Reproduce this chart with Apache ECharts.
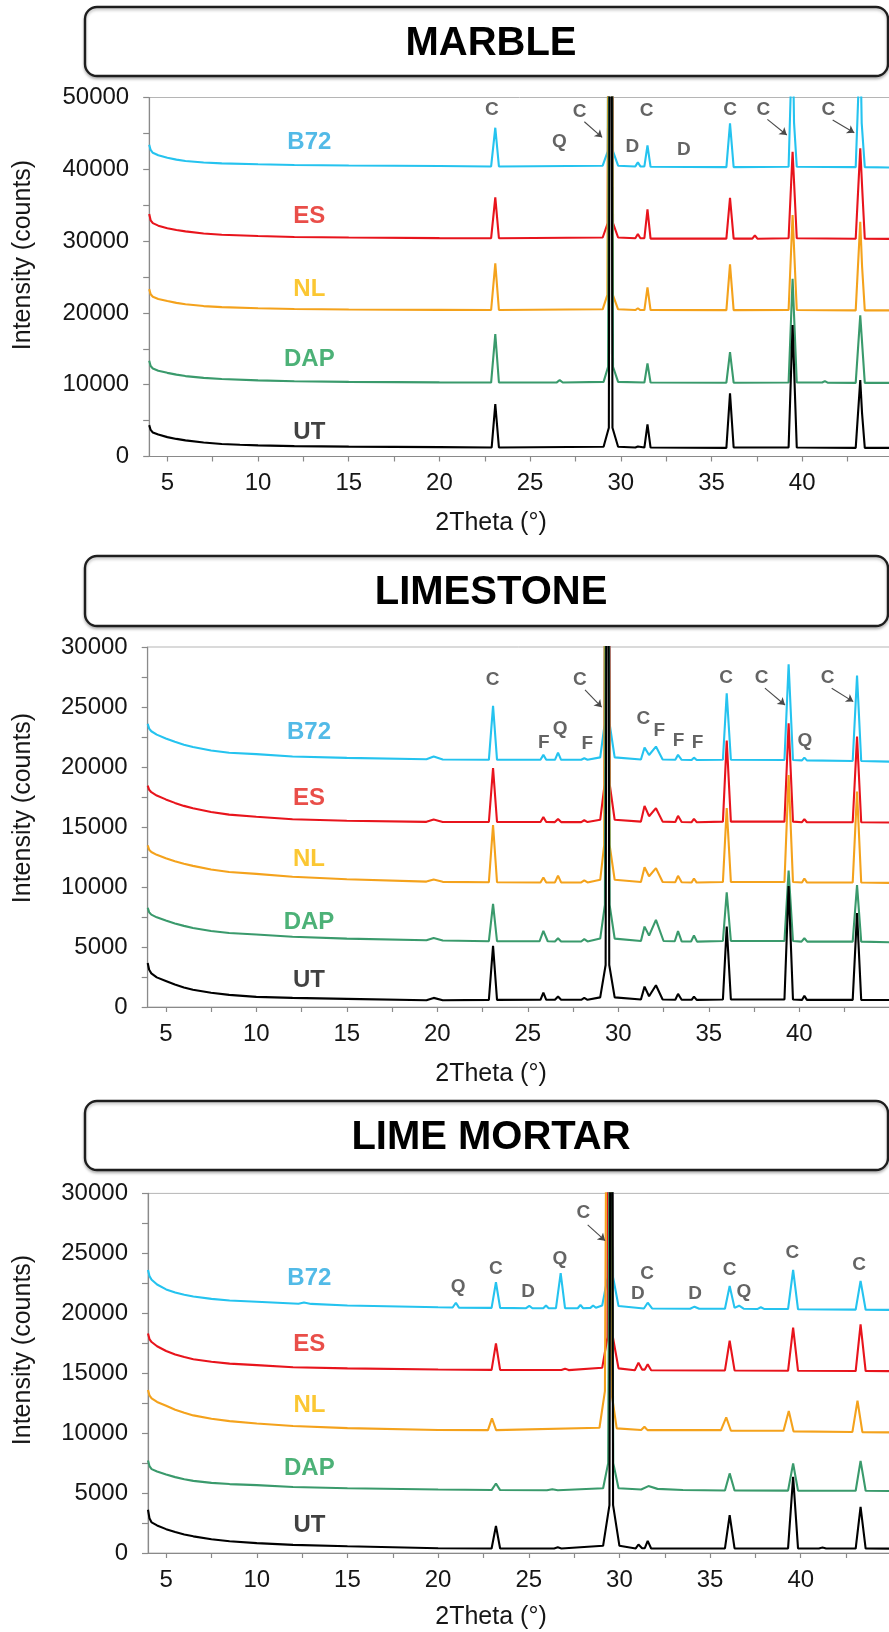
<!DOCTYPE html>
<html>
<head>
<meta charset="utf-8">
<script src="https://cdn.jsdelivr.net/npm/echarts@6/dist/echarts.min.js"></script>
<style>
html,body{margin:0;padding:0;background:#fff;}
#chart{width:889px;height:1632px;}
</style>
</head>
<body>
<div id="chart"></div>
<script>
// ---------- DATA ----------
const panelTitles = ['MARBLE', 'LIMESTONE', 'LIME MORTAR'];
const sampleNames = ['B72', 'ES', 'NL', 'DAP', 'UT'];
const xAxisTitle = '2Theta (°)';
const yAxisTitle = 'Intensity (counts)';
const xTickValues = [5, 7.5, 10, 12.5, 15, 17.5, 20, 22.5, 25, 27.5, 30, 32.5, 35, 37.5, 40, 42.5];
const xLabelValues = [5, 10, 15, 20, 25, 30, 35, 40];
const yMaxes = [50000, 30000, 30000];
const yTickSteps = [5000, 2500, 2500];
const yLabelSteps = [10000, 5000, 5000];

// MARBLE
const marbleB72 = [[4,43430],[4.08,42700],[4.2,42300],[4.5,41950],[5,41600],[5.5,41350],[6,41150],[7,40950],[8,40820],[10,40700],[12,40600],[15,40520],[20,40450],[22.85,40400],[23.08,45790],[23.28,40400],[29.0,40500],[29.28,42500],[29.42,170000],[29.57,42500],[29.85,40500],[30.8,40400],[30.94,40970],[31.08,40400],[31.3,40400],[31.47,43340],[31.64,40350],[35.82,40300],[36.02,46400],[36.22,40300],[39.25,40350],[39.47,60000],[39.55,46500],[39.7,40350],[42.95,40300],[43.2,58000],[43.28,46440],[43.45,40300],[45,40250]];
const marbleES = [[4,33760],[4.08,32900],[4.2,32500],[4.5,32150],[5,31800],[5.5,31550],[6,31350],[7,31050],[8,30880],[10,30700],[12,30580],[15,30500],[20,30420],[22.85,30400],[23.08,36090],[23.28,30400],[29.0,30500],[29.28,32500],[29.42,160000],[29.57,32500],[29.85,30500],[30.8,30400],[30.94,30980],[31.08,30400],[31.3,30400],[31.47,34420],[31.64,30350],[35.82,30350],[36.02,36040],[36.22,30350],[37.25,30350],[37.39,30800],[37.53,30330],[39.25,30400],[39.47,42450],[39.7,30400],[42.95,30330],[43.2,42920],[43.32,36690],[43.45,30330],[45,30300]];
const marbleNL = [[4,23310],[4.08,22600],[4.2,22250],[4.5,21950],[5,21650],[5.5,21400],[6,21200],[7,20950],[8,20800],[10,20650],[12,20550],[15,20480],[20,20420],[22.85,20400],[23.08,26900],[23.28,20400],[29.0,20500],[29.26,22500],[29.41,150000],[29.56,22500],[29.85,20500],[30.8,20400],[30.94,20650],[31.08,20400],[31.3,20400],[31.47,23550],[31.64,20400],[35.82,20380],[36.02,26760],[36.22,20380],[39.25,20400],[39.47,33630],[39.7,20400],[42.95,20350],[43.2,32700],[43.3,26500],[43.45,20350],[45,20350]];
const marbleDAP = [[4,13330],[4.08,12600],[4.2,12250],[4.5,11950],[5,11650],[5.5,11400],[6,11200],[7,10950],[8,10800],[10,10600],[12,10480],[15,10400],[20,10320],[22.85,10300],[23.08,17050],[23.28,10300],[26.45,10300],[26.63,10640],[26.8,10300],[29.05,10400],[29.3,12500],[29.43,140000],[29.57,12500],[29.85,10400],[31.3,10300],[31.47,12970],[31.64,10300],[35.82,10280],[36.02,14540],[36.22,10280],[39.25,10300],[39.47,24760],[39.7,10300],[41.1,10300],[41.25,10500],[41.4,10280],[42.95,10250],[43.2,19650],[43.45,10250],[45,10250]];
const marbleUT = [[4,4370],[4.08,3700],[4.2,3350],[4.5,3050],[5,2700],[5.5,2450],[6,2250],[7,1950],[8,1750],[9,1630],[10,1550],[12,1450],[15,1380],[20,1300],[22.88,1250],[23.08,7300],[23.28,1250],[29.05,1350],[29.34,4000],[29.44,130000],[29.54,4000],[29.85,1350],[30.8,1250],[30.94,1400],[31.05,1250],[31.3,1250],[31.47,4470],[31.64,1250],[35.82,1200],[36.02,8790],[36.22,1250],[39.25,1250],[39.47,18300],[39.7,1250],[42.95,1200],[43.2,10640],[43.3,6000],[43.45,1200],[45,1200]];
const marbleNameSpots = [[12.83,43800],[12.83,33490],[12.83,23280],[12.83,13570],[12.83,3390]];
const marbleMarks = [[22.89,48250,'C'],[26.61,43840,'Q'],[27.73,48020,'C'],[30.63,43140,'D'],[31.42,48160,'C'],[33.48,42680,'D'],[36.02,48350,'C'],[37.86,48350,'C'],[41.44,48350,'C']];
const marbleArrows = [[[27.99,46620],[28.97,44450]],[[38.08,46960],[39.15,44770]],[[41.68,46860],[42.87,45090]]];

// LIMESTONE
const limeB72 = [[4,23590],[4.08,23200],[4.2,22980],[4.5,22700],[5,22380],[5.5,22100],[6,21860],[6.5,21660],[7.5,21380],[8.5,21190],[10,21070],[12,20880],[15,20760],[19.4,20650],[19.8,20870],[20.3,20620],[22.85,20600],[23.08,25090],[23.3,20600],[25.7,20600],[25.86,21010],[26.02,20600],[26.5,20600],[26.67,21200],[26.84,20600],[27.95,20600],[28.12,20730],[28.3,20600],[29.0,20800],[29.24,23500],[29.38,120000],[29.53,23500],[29.8,20800],[31.25,20620],[31.45,21620],[31.7,21000],[32.08,21700],[32.45,20620],[33.15,20600],[33.3,21010],[33.5,20600],[34.05,20580],[34.18,20780],[34.33,20580],[35.78,20600],[35.99,26150],[36.22,20600],[39.18,20580],[39.41,28560],[39.65,20580],[40.15,20550],[40.28,20780],[40.42,20550],[42.95,20500],[43.19,27620],[43.42,20500],[45,20450]];
const limeES = [[4,18450],[4.08,18100],[4.2,17900],[4.5,17620],[5,17300],[5.5,17010],[6,16760],[6.5,16560],[7.5,16250],[8.5,16030],[10,15860],[12,15650],[15,15520],[19.4,15430],[19.8,15620],[20.3,15420],[22.85,15420],[23.08,19900],[23.3,15420],[25.7,15420],[25.86,15820],[26.02,15420],[26.5,15410],[26.67,15670],[26.84,15410],[27.95,15410],[28.12,15560],[28.3,15410],[29.0,15600],[29.24,18500],[29.38,110000],[29.53,18500],[29.8,15600],[31.25,15450],[31.45,16760],[31.7,15900],[32.08,16570],[32.45,15450],[33.15,15420],[33.3,15930],[33.5,15420],[34.05,15400],[34.18,15680],[34.33,15400],[35.78,15450],[35.99,22200],[36.22,15450],[39.18,15450],[39.41,23650],[39.65,15450],[40.15,15400],[40.28,15650],[40.42,15400],[42.95,15400],[43.19,22530],[43.42,15400],[45,15380]];
const limeNL = [[4,13470],[4.08,13100],[4.2,12920],[4.5,12680],[5,12400],[5.5,12150],[6,11940],[6.5,11760],[7.5,11460],[8.5,11250],[10,11090],[12,10850],[15,10650],[19.4,10450],[19.8,10620],[20.3,10430],[22.85,10400],[23.08,15170],[23.3,10400],[25.7,10380],[25.86,10800],[26.02,10380],[26.5,10380],[26.67,10950],[26.84,10380],[27.95,10380],[28.12,10550],[28.3,10380],[29.0,10600],[29.22,13500],[29.37,100000],[29.52,13500],[29.8,10600],[31.25,10420],[31.45,11650],[31.7,10900],[32.08,11570],[32.45,10420],[33.15,10400],[33.3,10930],[33.5,10400],[34.05,10380],[34.18,10710],[34.33,10370],[35.78,10420],[35.99,16570],[36.22,10420],[39.18,10420],[39.41,19340],[39.65,10420],[40.15,10380],[40.28,10710],[40.42,10380],[42.95,10370],[43.19,17950],[43.42,10370],[45,10340]];
const limeDAP = [[4,8270],[4.08,7900],[4.2,7700],[4.5,7470],[5,7200],[5.5,6960],[6,6760],[6.5,6590],[7.5,6340],[8.5,6170],[10,6040],[12,5850],[15,5700],[19.4,5560],[19.8,5750],[20.3,5540],[22.85,5480],[23.08,8590],[23.3,5480],[25.65,5480],[25.86,6340],[26.1,5480],[26.5,5460],[26.67,5730],[26.84,5460],[27.95,5460],[28.12,5650],[28.3,5460],[29.0,5700],[29.26,8500],[29.39,90000],[29.52,8500],[29.8,5700],[31.25,5500],[31.45,6700],[31.7,5950],[32.08,7260],[32.5,5500],[33.12,5480],[33.3,6320],[33.5,5470],[34.02,5460],[34.18,5960],[34.35,5450],[35.78,5500],[35.99,9560],[36.22,5500],[39.18,5500],[39.41,11370],[39.65,5500],[40.12,5450],[40.28,5730],[40.44,5450],[42.95,5450],[43.19,10170],[43.42,5450],[45,5400]];
const limeUT = [[4,3670],[4.08,3100],[4.2,2800],[4.5,2470],[5,2170],[5.5,1870],[6,1620],[6.5,1440],[7.5,1190],[8.5,1010],[10,840],[12,760],[15,680],[19.4,560],[19.8,760],[20.3,560],[22.85,590],[23.08,5090],[23.3,590],[25.7,600],[25.86,1200],[26.02,600],[26.5,600],[26.67,870],[26.84,600],[27.95,600],[28.12,760],[28.3,600],[29.0,800],[29.3,3500],[29.4,80000],[29.5,3500],[29.8,800],[31.25,620],[31.45,1700],[31.7,900],[32.08,1810],[32.45,620],[33.15,600],[33.3,1090],[33.5,600],[34.05,600],[34.18,870],[34.33,590],[35.78,620],[35.99,6700],[36.22,620],[39.18,620],[39.41,10090],[39.65,620],[40.15,590],[40.28,930],[40.42,590],[42.95,590],[43.19,7820],[43.42,590],[45,580]];
const limeNameSpots = [[12.91,22850],[12.91,17350],[12.91,12290],[12.91,7080],[12.91,2260]];
const limeMarks = [[23.06,27310,'C'],[25.89,21980,'F'],[26.78,23150,'Q'],[28.29,21930,'F'],[27.88,27260,'C'],[31.38,24060,'C'],[32.27,23030,'F'],[33.33,22200,'F'],[34.38,21980,'F'],[35.95,27400,'C'],[37.92,27400,'C'],[40.31,22200,'Q'],[41.57,27400,'C']];
const limeArrows = [[[28.16,26420],[29.08,24980]],[[38.10,26570],[39.21,25170]],[[41.79,26570],[42.98,25450]]];

// LIME MORTAR
const mortarB72 = [[4,23610],[4.08,23100],[4.2,22800],[4.5,22400],[5,21990],[5.5,21730],[6,21550],[6.5,21400],[7.5,21200],[8.5,21060],[10,20960],[12.3,20800],[12.6,20900],[13,20780],[15,20650],[20,20500],[20.8,20480],[20.98,20880],[21.15,20470],[22.95,20450],[23.19,22590],[23.42,20450],[24.85,20420],[25.03,20610],[25.2,20420],[25.8,20420],[25.95,20650],[26.1,20420],[26.5,20420],[26.76,23340],[27.0,20420],[27.7,20420],[27.85,20690],[28.0,20420],[28.4,20450],[28.55,20650],[28.7,20460],[29.05,20650],[29.35,23000],[29.5,100000],[29.65,23000],[29.95,20600],[31.35,20400],[31.56,20880],[31.8,20400],[33.9,20380],[34.14,20550],[34.4,20380],[35.82,20380],[36.08,22280],[36.35,20450],[36.6,20630],[36.85,20380],[37.6,20350],[37.8,20500],[38.0,20350],[39.3,20350],[39.58,23610],[39.85,20330],[43.03,20300],[43.3,22700],[43.58,20290],[45,20280]];
const mortarES = [[4,18310],[4.08,17850],[4.2,17600],[4.5,17250],[5,16850],[5.5,16560],[6,16350],[6.5,16170],[7.5,15950],[8.5,15800],[10,15670],[12,15500],[15,15400],[20,15310],[22.95,15280],[23.19,17490],[23.42,15280],[26.8,15270],[27.0,15380],[27.2,15260],[29.05,15450],[29.34,18000],[29.49,90000],[29.64,18000],[29.95,15400],[30.85,15250],[31.05,15880],[31.25,15300],[31.4,15300],[31.56,15740],[31.75,15250],[35.82,15230],[36.08,17710],[36.35,15230],[39.3,15200],[39.58,18800],[39.85,15200],[43.03,15180],[43.3,19080],[43.58,15180],[45,15170]];
const mortarNL = [[4,13600],[4.08,13150],[4.2,12900],[4.5,12600],[5,12280],[5.5,11950],[6,11700],[6.5,11480],[7.5,11200],[8.5,11000],[10,10810],[12,10600],[15,10420],[20,10260],[22.75,10250],[22.97,11230],[23.2,10250],[28.9,10450],[29.2,13500],[29.42,80000],[29.6,13000],[29.85,10400],[31.2,10260],[31.38,10530],[31.55,10250],[35.6,10250],[35.89,11310],[36.15,10200],[39.05,10200],[39.34,11840],[39.6,10150],[42.85,10100],[43.13,12700],[43.4,10080],[45,10060]];
const mortarDAP = [[4,7720],[4.08,7250],[4.2,7000],[4.5,6800],[5,6550],[5.5,6330],[6,6150],[6.5,6020],[7.5,5850],[8.5,5750],[10,5660],[12,5500],[15,5400],[20,5300],[22.95,5250],[23.19,5800],[23.42,5250],[26.0,5230],[26.3,5320],[26.6,5230],[29.1,5400],[29.38,7500],[29.52,60000],[29.66,7500],[29.95,5400],[31.2,5300],[31.6,5580],[32.1,5350],[33.5,5250],[35.82,5220],[36.08,6640],[36.35,5220],[39.3,5200],[39.58,7470],[39.85,5200],[43.03,5190],[43.3,7690],[43.58,5190],[45,5170]];
const mortarUT = [[4,3610],[4.08,2900],[4.2,2550],[4.5,2300],[5,1990],[5.5,1750],[6,1550],[6.5,1390],[7.5,1150],[8.5,980],[10,820],[12,680],[15,560],[20,400],[22.95,380],[23.19,2260],[23.42,380],[26.4,380],[26.6,470],[26.8,380],[29.1,600],[29.45,4000],[29.55,70000],[29.65,4000],[30.0,600],[30.9,380],[31.05,710],[31.25,400],[31.4,400],[31.56,1010],[31.75,380],[35.82,380],[36.08,3160],[36.35,380],[39.3,380],[39.58,6360],[39.85,380],[41.0,370],[41.2,450],[41.4,370],[43.03,370],[43.3,3850],[43.58,370],[45,360]];
const mortarNameSpots = [[12.9,22870],[12.9,17430],[12.9,12280],[12.9,7080],[12.9,2290]];
const mortarMarks = [[21.10,22170,'Q'],[23.19,23750,'C'],[24.97,21800,'D'],[26.72,24530,'Q'],[28.01,28350,'C'],[31.01,21610,'D'],[31.53,23280,'C'],[34.18,21610,'D'],[36.08,23610,'C'],[36.87,21800,'Q'],[39.54,25060,'C'],[43.22,24030,'C']];
const mortarArrows = [[[28.25,27370],[29.21,26060]]];

// ---------- STYLE / LAYOUT ----------
const FONT = '"Liberation Sans", Arial, Helvetica, sans-serif';
const lineColors = ['#25c3ef', '#e8141c', '#f4a21c', '#3a9a6c', '#000000'];
const nameColors = ['#27a9e1', '#e3221b', '#fab900', '#1f9d55', '#111111'];
const panelSeries = [
  [marbleB72, marbleES, marbleNL, marbleDAP, marbleUT],
  [limeB72, limeES, limeNL, limeDAP, limeUT],
  [mortarB72, mortarES, mortarNL, mortarDAP, mortarUT]
];
const panelNameSpots = [marbleNameSpots, limeNameSpots, mortarNameSpots];
const panelMarks = [marbleMarks, limeMarks, mortarMarks];
const panelArrows = [marbleArrows, limeArrows, mortarArrows];
const gridBoxes = [
  {left: 149.2, top: 97.5, width: 743.7, height: 359},
  {left: 147.7, top: 647, width: 742.1, height: 360},
  {left: 148, top: 1193.4, width: 743.4, height: 359.6}
];
const titleBoxes = [{y: 7, h: 69}, {y: 556, h: 70}, {y: 1101, h: 69}];
const xNameY = [523, 1074, 1617];
const yNameY = [255, 808, 1350];

const grids = [], xAxes = [], yAxes = [], series = [], graphics = [];
for (let p = 0; p < 3; p++) {
  grids.push(Object.assign({show: true, borderColor: '#b5b5b5', borderWidth: 1, backgroundColor: 'transparent', containLabel: false, outerBoundsMode: 'none'}, gridBoxes[p]));
  xAxes.push({
    type: 'value', gridIndex: p, min: 4, max: 45,
    axisLine: {show: true, onZero: false, lineStyle: {color: '#8a8a8a', width: 1.2}},
    axisTick: {show: true, length: 5, customValues: xTickValues, lineStyle: {color: '#8a8a8a', width: 1.2}},
    axisLabel: {show: true, customValues: xLabelValues, margin: 15, fontSize: 24, fontFamily: FONT, color: '#161616', formatter: v => String(v)},
    splitLine: {show: false}
  });
  const step = yLabelSteps[p];
  yAxes.push({
    type: 'value', gridIndex: p, min: 0, max: yMaxes[p], interval: yTickSteps[p],
    axisLine: {show: true, lineStyle: {color: '#8a8a8a', width: 1.2}},
    axisTick: {show: true, length: 6, lineStyle: {color: '#8a8a8a', width: 1.2}},
    axisLabel: {show: true, margin: 20, fontSize: 24, fontFamily: FONT, color: '#161616',
      formatter: v => (Math.round(v) % step === 0 ? String(Math.round(v)) : '')},
    splitLine: {show: false}
  });
  // spectra: B72 first, UT last (on top)
  for (let s = 0; s < 5; s++) {
    series.push({
      type: 'line', name: panelTitles[p] + ' ' + sampleNames[s], xAxisIndex: p, yAxisIndex: p,
      data: panelSeries[p][s], showSymbol: false, symbol: 'none', clip: true,
      lineStyle: {color: lineColors[s], width: 2.1}, z: 2 + s
    });
  }
  // sample names
  series.push({
    type: 'scatter', xAxisIndex: p, yAxisIndex: p, symbolSize: 1, z: 20,
    itemStyle: {color: 'rgba(0,0,0,0)'},
    data: panelNameSpots[p].map((v, i) => ({value: v, name: sampleNames[i],
      label: {color: nameColors[i]}})),
    label: {show: true, position: 'inside', formatter: d => d.name, fontSize: 24, fontWeight: 'bold', fontFamily: FONT}
  });
  // phase letters
  series.push({
    type: 'scatter', xAxisIndex: p, yAxisIndex: p, symbolSize: 1, z: 20,
    itemStyle: {color: 'rgba(0,0,0,0)'},
    data: panelMarks[p].map(m => ({value: [m[0], m[1]], name: m[2]})),
    label: {show: true, position: 'inside', formatter: d => d.name, fontSize: 19, fontWeight: 'bold', fontFamily: FONT, color: '#3d3d3d'}
  });
  // arrows
  series.push({
    type: 'lines', coordinateSystem: 'cartesian2d', xAxisIndex: p, yAxisIndex: p, z: 20,
    symbol: ['none', 'arrow'], symbolSize: 7,
    lineStyle: {color: '#4a4a4a', width: 1.1, opacity: 1},
    data: panelArrows[p].map(a => ({coords: a}))
  });
  // title box + texts
  graphics.push({
    type: 'rect', z: 1,
    shape: {x: 85, y: titleBoxes[p].y, width: 803, height: titleBoxes[p].h, r: 12},
    style: {fill: '#ffffff', stroke: '#1e1e1e', lineWidth: 2.4, shadowBlur: 3, shadowOffsetY: 2, shadowColor: 'rgba(0,0,0,0.25)'}
  });
  graphics.push({
    type: 'text', z: 2, x: 491, y: titleBoxes[p].y + titleBoxes[p].h / 2 + 2,
    style: {text: panelTitles[p], font: 'bold 40px ' + FONT, fill: '#000', align: 'center', verticalAlign: 'middle', textAlign: 'center', textVerticalAlign: 'middle'}
  });
  graphics.push({
    type: 'text', z: 2, x: 491, y: xNameY[p],
    style: {text: xAxisTitle, font: '25px ' + FONT, fill: '#161616', align: 'center', verticalAlign: 'middle', textAlign: 'center', textVerticalAlign: 'middle'}
  });
  graphics.push({
    type: 'text', z: 2, x: 23, y: yNameY[p], rotation: Math.PI / 2,
    style: {text: yAxisTitle, font: '25px ' + FONT, fill: '#161616', align: 'center', verticalAlign: 'middle', textAlign: 'center', textVerticalAlign: 'middle'}
  });
}

const chart = echarts.init(document.getElementById('chart'), null, {renderer: 'canvas'});
chart.setOption({
  animation: false,
  backgroundColor: '#ffffff',
  grid: grids,
  xAxis: xAxes,
  yAxis: yAxes,
  series: series,
  graphic: graphics
});
</script>
</body>
</html>
